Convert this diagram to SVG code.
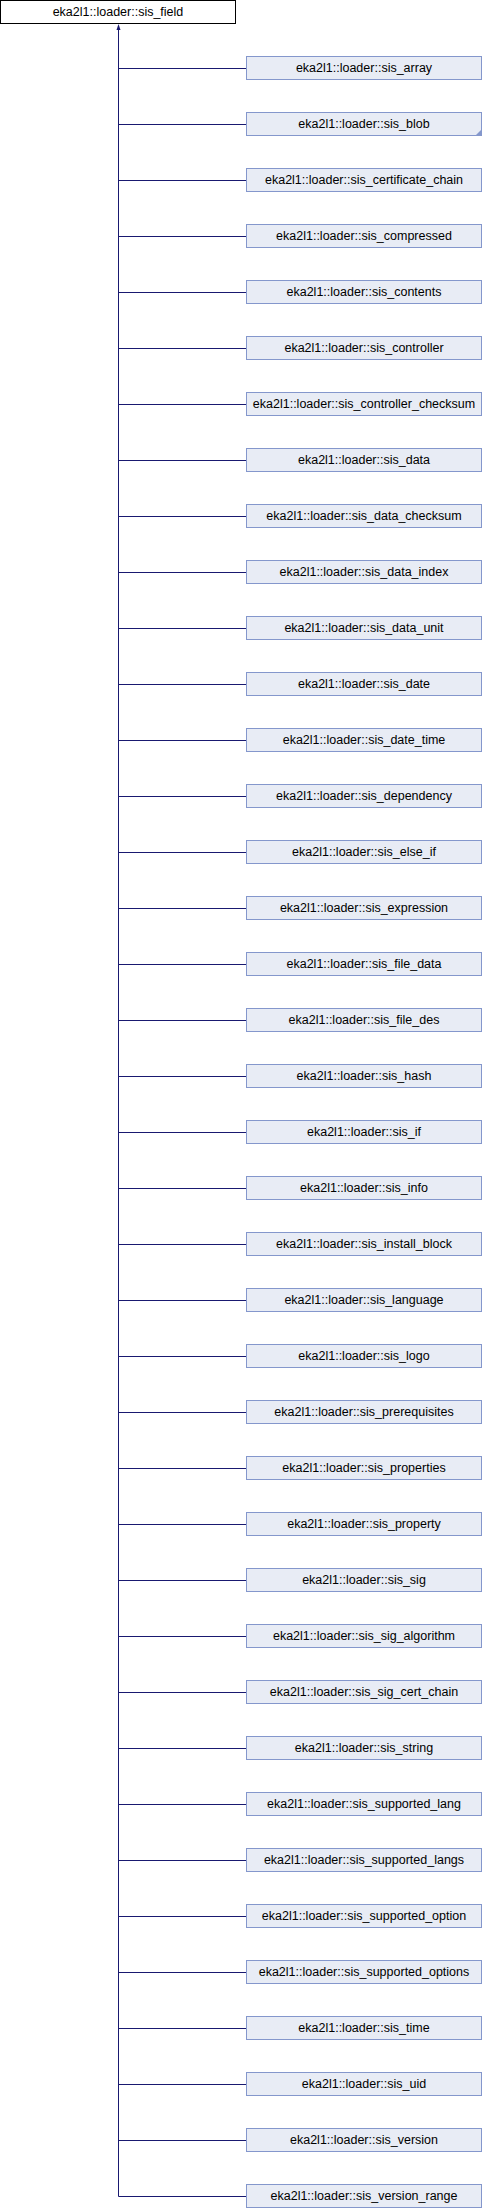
<svg xmlns="http://www.w3.org/2000/svg" width="482" height="2208" viewBox="0 0 482 2208">
<style>
.n rect{fill:#e8ecf5;stroke:#8497cc;stroke-width:1}
.r rect{fill:#ffffff;stroke:#000000;stroke-width:1}
text{font-family:"Liberation Sans",Arial,sans-serif;font-size:12.5px;fill:#000;text-anchor:middle}
.e{stroke:#191970;stroke-width:1;fill:none}
</style>
<rect width="482" height="2208" fill="#ffffff"/>
<g id="connectors">
<path class="e" d="M118.5 30V2196.5"/>
<polygon points="118.5,24 116.5,30 120.5,30" fill="#191970"/>
<path class="e" d="M118.5 68.5H246M118.5 124.5H246M118.5 180.5H246M118.5 236.5H246M118.5 292.5H246M118.5 348.5H246M118.5 404.5H246M118.5 460.5H246M118.5 516.5H246M118.5 572.5H246M118.5 628.5H246M118.5 684.5H246M118.5 740.5H246M118.5 796.5H246M118.5 852.5H246M118.5 908.5H246M118.5 964.5H246M118.5 1020.5H246M118.5 1076.5H246M118.5 1132.5H246M118.5 1188.5H246M118.5 1244.5H246M118.5 1300.5H246M118.5 1356.5H246M118.5 1412.5H246M118.5 1468.5H246M118.5 1524.5H246M118.5 1580.5H246M118.5 1636.5H246M118.5 1692.5H246M118.5 1748.5H246M118.5 1804.5H246M118.5 1860.5H246M118.5 1916.5H246M118.5 1972.5H246M118.5 2028.5H246M118.5 2084.5H246M118.5 2140.5H246M118.5 2196.5H246"/>
</g>
<g id="sis_field" class="r"><rect x="0.5" y="0.5" width="235" height="23"/><text x="118" y="16">eka2l1::loader::sis_field</text></g>
<g id="sis_array" class="n"><rect x="246.5" y="56.5" width="235" height="23"/><text x="364" y="72.4">eka2l1::loader::sis_array</text></g>
<g id="sis_blob" class="n"><rect x="246.5" y="112.5" width="235" height="23"/><text x="364" y="128.4">eka2l1::loader::sis_blob</text><polygon points="481,130 481,135 476,135" fill="#8497cc"/></g>
<g id="sis_certificate_chain" class="n"><rect x="246.5" y="168.5" width="235" height="23"/><text x="364" y="184.4">eka2l1::loader::sis_certificate_chain</text></g>
<g id="sis_compressed" class="n"><rect x="246.5" y="224.5" width="235" height="23"/><text x="364" y="240.4">eka2l1::loader::sis_compressed</text></g>
<g id="sis_contents" class="n"><rect x="246.5" y="280.5" width="235" height="23"/><text x="364" y="296.4">eka2l1::loader::sis_contents</text></g>
<g id="sis_controller" class="n"><rect x="246.5" y="336.5" width="235" height="23"/><text x="364" y="352.4">eka2l1::loader::sis_controller</text></g>
<g id="sis_controller_checksum" class="n"><rect x="246.5" y="392.5" width="235" height="23"/><text x="364" y="408.4">eka2l1::loader::sis_controller_checksum</text></g>
<g id="sis_data" class="n"><rect x="246.5" y="448.5" width="235" height="23"/><text x="364" y="464.4">eka2l1::loader::sis_data</text></g>
<g id="sis_data_checksum" class="n"><rect x="246.5" y="504.5" width="235" height="23"/><text x="364" y="520.4">eka2l1::loader::sis_data_checksum</text></g>
<g id="sis_data_index" class="n"><rect x="246.5" y="560.5" width="235" height="23"/><text x="364" y="576.4">eka2l1::loader::sis_data_index</text></g>
<g id="sis_data_unit" class="n"><rect x="246.5" y="616.5" width="235" height="23"/><text x="364" y="632.4">eka2l1::loader::sis_data_unit</text></g>
<g id="sis_date" class="n"><rect x="246.5" y="672.5" width="235" height="23"/><text x="364" y="688.4">eka2l1::loader::sis_date</text></g>
<g id="sis_date_time" class="n"><rect x="246.5" y="728.5" width="235" height="23"/><text x="364" y="744.4">eka2l1::loader::sis_date_time</text></g>
<g id="sis_dependency" class="n"><rect x="246.5" y="784.5" width="235" height="23"/><text x="364" y="800.4">eka2l1::loader::sis_dependency</text></g>
<g id="sis_else_if" class="n"><rect x="246.5" y="840.5" width="235" height="23"/><text x="364" y="856.4">eka2l1::loader::sis_else_if</text></g>
<g id="sis_expression" class="n"><rect x="246.5" y="896.5" width="235" height="23"/><text x="364" y="912.4">eka2l1::loader::sis_expression</text></g>
<g id="sis_file_data" class="n"><rect x="246.5" y="952.5" width="235" height="23"/><text x="364" y="968.4">eka2l1::loader::sis_file_data</text></g>
<g id="sis_file_des" class="n"><rect x="246.5" y="1008.5" width="235" height="23"/><text x="364" y="1024.4">eka2l1::loader::sis_file_des</text></g>
<g id="sis_hash" class="n"><rect x="246.5" y="1064.5" width="235" height="23"/><text x="364" y="1080.4">eka2l1::loader::sis_hash</text></g>
<g id="sis_if" class="n"><rect x="246.5" y="1120.5" width="235" height="23"/><text x="364" y="1136.4">eka2l1::loader::sis_if</text></g>
<g id="sis_info" class="n"><rect x="246.5" y="1176.5" width="235" height="23"/><text x="364" y="1192.4">eka2l1::loader::sis_info</text></g>
<g id="sis_install_block" class="n"><rect x="246.5" y="1232.5" width="235" height="23"/><text x="364" y="1248.4">eka2l1::loader::sis_install_block</text></g>
<g id="sis_language" class="n"><rect x="246.5" y="1288.5" width="235" height="23"/><text x="364" y="1304.4">eka2l1::loader::sis_language</text></g>
<g id="sis_logo" class="n"><rect x="246.5" y="1344.5" width="235" height="23"/><text x="364" y="1360.4">eka2l1::loader::sis_logo</text></g>
<g id="sis_prerequisites" class="n"><rect x="246.5" y="1400.5" width="235" height="23"/><text x="364" y="1416.4">eka2l1::loader::sis_prerequisites</text></g>
<g id="sis_properties" class="n"><rect x="246.5" y="1456.5" width="235" height="23"/><text x="364" y="1472.4">eka2l1::loader::sis_properties</text></g>
<g id="sis_property" class="n"><rect x="246.5" y="1512.5" width="235" height="23"/><text x="364" y="1528.4">eka2l1::loader::sis_property</text></g>
<g id="sis_sig" class="n"><rect x="246.5" y="1568.5" width="235" height="23"/><text x="364" y="1584.4">eka2l1::loader::sis_sig</text></g>
<g id="sis_sig_algorithm" class="n"><rect x="246.5" y="1624.5" width="235" height="23"/><text x="364" y="1640.4">eka2l1::loader::sis_sig_algorithm</text></g>
<g id="sis_sig_cert_chain" class="n"><rect x="246.5" y="1680.5" width="235" height="23"/><text x="364" y="1696.4">eka2l1::loader::sis_sig_cert_chain</text></g>
<g id="sis_string" class="n"><rect x="246.5" y="1736.5" width="235" height="23"/><text x="364" y="1752.4">eka2l1::loader::sis_string</text></g>
<g id="sis_supported_lang" class="n"><rect x="246.5" y="1792.5" width="235" height="23"/><text x="364" y="1808.4">eka2l1::loader::sis_supported_lang</text></g>
<g id="sis_supported_langs" class="n"><rect x="246.5" y="1848.5" width="235" height="23"/><text x="364" y="1864.4">eka2l1::loader::sis_supported_langs</text></g>
<g id="sis_supported_option" class="n"><rect x="246.5" y="1904.5" width="235" height="23"/><text x="364" y="1920.4">eka2l1::loader::sis_supported_option</text></g>
<g id="sis_supported_options" class="n"><rect x="246.5" y="1960.5" width="235" height="23"/><text x="364" y="1976.4">eka2l1::loader::sis_supported_options</text></g>
<g id="sis_time" class="n"><rect x="246.5" y="2016.5" width="235" height="23"/><text x="364" y="2032.4">eka2l1::loader::sis_time</text></g>
<g id="sis_uid" class="n"><rect x="246.5" y="2072.5" width="235" height="23"/><text x="364" y="2088.4">eka2l1::loader::sis_uid</text></g>
<g id="sis_version" class="n"><rect x="246.5" y="2128.5" width="235" height="23"/><text x="364" y="2144.4">eka2l1::loader::sis_version</text></g>
<g id="sis_version_range" class="n"><rect x="246.5" y="2184.5" width="235" height="23"/><text x="364" y="2200.4">eka2l1::loader::sis_version_range</text></g>
</svg>
